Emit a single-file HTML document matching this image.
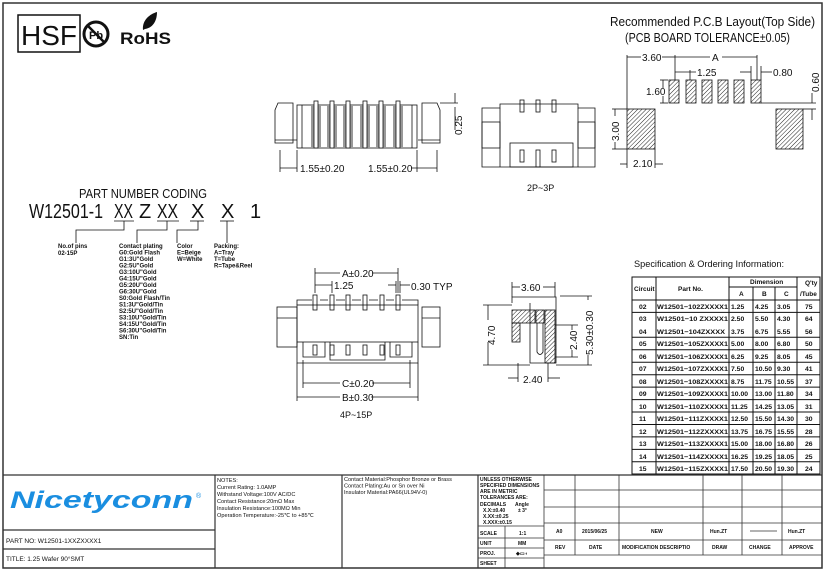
<!DOCTYPE html>
<html><head><meta charset="utf-8"><style>
html,body{margin:0;padding:0;background:#fff}
svg{display:block}
text{font-family:"Liberation Sans",sans-serif;fill:#111}
.s{font-size:6px}
.m{font-family:"Liberation Serif",serif;font-size:5.6px}
</style></head><body>
<svg width="826" height="571" viewBox="0 0 826 571" xmlns="http://www.w3.org/2000/svg">
<defs>
<pattern id="h" width="3" height="3" patternUnits="userSpaceOnUse" patternTransform="rotate(45)">
<line x1="0" y1="0" x2="0" y2="3" stroke="#222" stroke-width="1"/></pattern>
</defs>
<rect x="0" y="0" width="826" height="571" fill="#fff"/>
<rect x="3" y="3" width="819" height="565" fill="none" stroke="#333" stroke-width="1.5"/>

<!-- logos -->
<rect x="18" y="15" width="62" height="37" fill="none" stroke="#111" stroke-width="1.5"/>
<text x="21" y="45" font-size="28" textLength="56" lengthAdjust="spacingAndGlyphs">HSF</text>
<circle cx="96" cy="34" r="12" fill="none" stroke="#111" stroke-width="3"/>
<text x="89" y="39" font-size="11" font-weight="bold">Pb</text>
<line x1="88" y1="26" x2="104" y2="42" stroke="#111" stroke-width="2.5"/>
<text x="120" y="44" font-size="17" font-weight="bold" textLength="51" lengthAdjust="spacingAndGlyphs">RoHS</text>
<path d="M143 30 C142 20 150 14 157 12 C157 22 152 28 145 29 Z" fill="#111"/>

<!-- PCB layout title -->
<text x="610" y="26" font-size="12.5" textLength="205" lengthAdjust="spacingAndGlyphs">Recommended P.C.B Layout(Top Side)</text>
<text x="625" y="42" font-size="12.5" textLength="165" lengthAdjust="spacingAndGlyphs">(PCB BOARD TOLERANCE±0.05)</text>

<g stroke="#111" stroke-width="0.8">
<rect x="669" y="80" width="10" height="23" fill="url(#h)"/>
<rect x="686" y="80" width="10" height="23" fill="url(#h)"/>
<rect x="702" y="80" width="10" height="23" fill="url(#h)"/>
<rect x="718" y="80" width="10" height="23" fill="url(#h)"/>
<rect x="734" y="80" width="10" height="23" fill="url(#h)"/>
<rect x="751" y="80" width="10" height="23" fill="url(#h)"/>
<rect x="627" y="109" width="28" height="40" fill="url(#h)"/>
<rect x="776" y="109" width="27" height="40" fill="url(#h)"/>
<line x1="627" y1="55" x2="627" y2="109"/><line x1="675" y1="55" x2="675" y2="80"/><line x1="757" y1="55" x2="757" y2="80"/>
<line x1="627" y1="57" x2="641" y2="57"/><line x1="662" y1="57" x2="675" y2="57"/>
<line x1="675" y1="57" x2="710" y2="57"/><line x1="722" y1="57" x2="757" y2="57"/>
<line x1="690" y1="70" x2="690" y2="80"/>
<line x1="675" y1="72" x2="696" y2="72"/>
<line x1="740" y1="72" x2="751" y2="72"/><line x1="761" y1="72" x2="772" y2="72"/>
<line x1="751" y1="66" x2="751" y2="80"/><line x1="761" y1="66" x2="761" y2="80"/>
<line x1="660" y1="80" x2="668" y2="80"/><line x1="660" y1="103" x2="668" y2="103"/>
<line x1="663" y1="80" x2="663" y2="88"/><line x1="663" y1="96" x2="663" y2="103"/>
<line x1="761" y1="103" x2="816" y2="103"/><line x1="803" y1="109" x2="816" y2="109"/>
<line x1="812" y1="93" x2="812" y2="103"/><line x1="812" y1="109" x2="812" y2="120"/>
<line x1="612" y1="109" x2="627" y2="109"/><line x1="612" y1="149" x2="627" y2="149"/>
<line x1="615" y1="109" x2="615" y2="116"/><line x1="615" y1="142" x2="615" y2="149"/>
<line x1="627" y1="149" x2="627" y2="168"/><line x1="655" y1="149" x2="655" y2="168"/>
<line x1="620" y1="164" x2="627" y2="164"/><line x1="655" y1="164" x2="663" y2="164"/>
</g>
<g font-size="10">
<text x="642" y="61">3.60</text><text x="712" y="61">A</text>
<text x="697" y="76">1.25</text><text x="773" y="76">0.80</text>
<text x="646" y="95">1.60</text>
<text x="633" y="167">2.10</text>
<text transform="translate(819,92) rotate(-90)">0.60</text>
<text transform="translate(619,141) rotate(-90)">3.00</text>
</g>

<!-- top side view -->
<g stroke="#111" stroke-width="0.8" fill="none">
<rect x="297" y="105" width="120" height="43"/>
<path d="M293 103 L278 103 L275 110 L275 143 L293 143 Z"/>
<line x1="275" y1="140" x2="297" y2="140"/>
<path d="M422 103 L437 103 L440 110 L440 143 L422 143 Z"/>
<line x1="418" y1="140" x2="440" y2="140"/>
<line x1="302" y1="105" x2="302" y2="148"/><line x1="412" y1="105" x2="412" y2="148"/>
</g>
<g fill="#999">
<rect x="311" y="105" width="10" height="43"/><rect x="327" y="105" width="10" height="43"/><rect x="343" y="105" width="10" height="43"/>
<rect x="360" y="105" width="10" height="43"/><rect x="376" y="105" width="10" height="43"/><rect x="393" y="105" width="10" height="43"/>
</g>
<g stroke="#111" stroke-width="0.8" fill="#fff">
<rect x="314" y="101" width="4" height="47"/><rect x="330" y="101" width="4" height="47"/><rect x="346" y="101" width="4" height="47"/>
<rect x="363" y="101" width="4" height="47"/><rect x="379" y="101" width="4" height="47"/><rect x="396" y="101" width="4" height="47"/>
</g>
<g stroke="#111" stroke-width="0.8">
<line x1="280" y1="150" x2="280" y2="172"/><line x1="297" y1="150" x2="297" y2="172"/>
<line x1="417" y1="150" x2="417" y2="172"/><line x1="437" y1="150" x2="437" y2="172"/>
<line x1="280" y1="168" x2="297" y2="168"/><line x1="411" y1="168" x2="437" y2="168"/>
<line x1="440" y1="103" x2="458" y2="103"/><line x1="455" y1="93" x2="455" y2="103"/><line x1="455" y1="107" x2="455" y2="130"/>
</g>
<text x="300" y="172" font-size="10">1.55±0.20</text>
<text x="368" y="172" font-size="10">1.55±0.20</text>
<text transform="translate(462,135) rotate(-90)" font-size="10">0.25</text>

<!-- 2P~3P view -->
<g stroke="#111" stroke-width="0.8" fill="none">
<path d="M482 108 L500 108 L500 104 L578 104 L578 108 L595 108 L595 167 L482 167 Z"/>
<rect x="482" y="122" width="18" height="26"/><rect x="578" y="122" width="17" height="26"/>
<line x1="500" y1="108" x2="500" y2="167"/><line x1="578" y1="108" x2="578" y2="167"/>
<rect x="510" y="143" width="63" height="24"/>
<rect x="520" y="100" width="4" height="12"/><rect x="536" y="100" width="4" height="12"/><rect x="552" y="100" width="4" height="12"/>
<rect x="520" y="150" width="4" height="12"/><rect x="536" y="150" width="4" height="17"/><rect x="552" y="150" width="4" height="12"/>
</g>
<text x="527" y="191" font-size="9">2P~3P</text>

<!-- part number coding -->
<text x="79" y="198" font-size="13" textLength="128" lengthAdjust="spacingAndGlyphs">PART NUMBER CODING</text>
<text x="29" y="218" font-size="20" textLength="74" lengthAdjust="spacingAndGlyphs">W12501-1</text>
<text x="114" y="218" font-size="20" textLength="19" lengthAdjust="spacingAndGlyphs">XX</text>
<text x="139" y="218" font-size="20">Z</text>
<text x="157" y="218" font-size="20" textLength="21" lengthAdjust="spacingAndGlyphs">XX</text>
<text x="191" y="218" font-size="20">X</text>
<text x="221" y="218" font-size="20">X</text>
<text x="250" y="218" font-size="20">1</text>
<g stroke="#111" stroke-width="0.8" fill="none">
<line x1="114" y1="221" x2="134" y2="221"/><line x1="157" y1="221" x2="179" y2="221"/>
<line x1="190" y1="221" x2="204" y2="221"/><line x1="220" y1="221" x2="234" y2="221"/>
<polyline points="124,221 124,230 76,230 76,243"/>
<polyline points="167,221 167,230 137,230 137,243"/>
<polyline points="198,221 198,230 177,230 177,243"/>
<line x1="227" y1="221" x2="227" y2="243"/>
</g>
<g class="s" font-weight="bold">
<text x="58" y="248">No.of pins</text><text x="58" y="255">02-15P</text>
<text x="119" y="248">Contact plating</text>
<text x="119" y="254.5">G0:Gold Flash</text><text x="119" y="261">G1:3U"Gold</text><text x="119" y="267.5">G2:5U"Gold</text>
<text x="119" y="274">G3:10U"Gold</text><text x="119" y="280.5">G4:15U"Gold</text><text x="119" y="287">G5:20U"Gold</text>
<text x="119" y="293.5">G6:30U"Gold</text><text x="119" y="300">S0:Gold Flash/Tin</text><text x="119" y="306.5">S1:3U"Gold/Tin</text>
<text x="119" y="313">S2:5U"Gold/Tin</text><text x="119" y="319.5">S3:10U"Gold/Tin</text><text x="119" y="326">S4:15U"Gold/Tin</text>
<text x="119" y="332.5">S6:30U"Gold/Tin</text><text x="119" y="339">SN:Tin</text>
<text x="177" y="248">Color</text><text x="177" y="254.5">E=Beige</text><text x="177" y="261">W=White</text>
<text x="214" y="248">Packing:</text><text x="214" y="254.5">A=Tray</text><text x="214" y="261">T=Tube</text><text x="214" y="267.5">R=Tape&amp;Reel</text>
</g>

<!-- 4P~15P front view -->
<g stroke="#111" stroke-width="0.8" fill="none">
<path d="M297 305 L297 300 L312 300 M320 300 L328 300 M336 300 L345 300 M352 300 L361 300 M369 300 L378 300 M386 300 L394 300 M402 300 L418 300 L418 305"/>
<rect x="297" y="305" width="121" height="37"/>
<rect x="277" y="307" width="20" height="40"/><rect x="422" y="307" width="18" height="40"/>
<line x1="277" y1="318" x2="297" y2="318"/><line x1="422" y1="318" x2="440" y2="318"/>
<polyline points="297,342 297,363 418,363 418,342"/>
<polyline points="303,342 303,357 325,357 325,342"/>
<polyline points="330,342 330,360 385,360 385,342"/>
<polyline points="390,342 390,357 412,357 412,342"/>
<rect x="313" y="295" width="4" height="15"/><rect x="330" y="295" width="4" height="15"/><rect x="346" y="295" width="4" height="15"/>
<rect x="363" y="295" width="4" height="15"/><rect x="380" y="295" width="4" height="15"/><rect x="396" y="295" width="4" height="15"/>
<rect x="313" y="345" width="4" height="10"/><rect x="330" y="345" width="4" height="10"/><rect x="346" y="345" width="4" height="10"/>
<rect x="363" y="345" width="4" height="10"/><rect x="380" y="345" width="4" height="10"/><rect x="396" y="345" width="4" height="10"/>
<line x1="315" y1="268" x2="315" y2="293"/><line x1="398" y1="268" x2="398" y2="293"/>
<line x1="315" y1="273" x2="340" y2="273"/><line x1="372" y1="273" x2="398" y2="273"/>
<line x1="332" y1="281" x2="332" y2="293"/>
<line x1="315" y1="285" x2="332" y2="285"/>
<line x1="396" y1="281" x2="396" y2="293"/><line x1="400" y1="281" x2="400" y2="293"/>
<line x1="388" y1="285" x2="396" y2="285"/><line x1="400" y1="285" x2="410" y2="285"/>
<line x1="303" y1="360" x2="303" y2="388"/><line x1="410" y1="360" x2="410" y2="388"/>
<line x1="297" y1="363" x2="297" y2="401"/><line x1="418" y1="363" x2="418" y2="401"/>
<line x1="303" y1="383" x2="340" y2="383"/><line x1="372" y1="383" x2="410" y2="383"/>
<line x1="297" y1="397" x2="340" y2="397"/><line x1="371" y1="397" x2="418" y2="397"/>
</g>
<g font-size="10">
<text x="342" y="277">A±0.20</text><text x="334" y="289">1.25</text><text x="411" y="290">0.30  TYP</text>
<text x="342" y="387">C±0.20</text><text x="342" y="401">B±0.30</text>
</g>
<text x="340" y="418" font-size="9">4P~15P</text>

<!-- side section -->
<g stroke="#111" stroke-width="0.8" fill="none">
<path d="M512 303 L512 297 L556 297 L556 303 M530 303 L530 363 L556 363 L556 303"/>
<rect x="512" y="310" width="23" height="13" fill="url(#h)"/>
<rect x="512" y="323" width="8" height="19" fill="url(#h)"/>
<rect x="545" y="310" width="10" height="53" fill="url(#h)"/>
<rect x="536" y="310" width="8" height="13" fill="url(#h)"/>
<path d="M537 323 L537 352 Q540 357 543 352 L543 323"/>
<line x1="512" y1="282" x2="512" y2="297"/><line x1="555" y1="282" x2="555" y2="297"/>
<line x1="512" y1="287" x2="520" y2="287"/><line x1="543" y1="287" x2="555" y2="287"/>
<line x1="483" y1="305" x2="512" y2="305"/><line x1="483" y1="365" x2="530" y2="365"/>
<line x1="488" y1="305" x2="488" y2="320"/><line x1="488" y1="342" x2="488" y2="365"/>
<line x1="555" y1="325" x2="578" y2="325"/><line x1="555" y1="357" x2="578" y2="357"/>
<line x1="572" y1="325" x2="572" y2="330"/><line x1="572" y1="350" x2="572" y2="357"/>
<line x1="560" y1="296" x2="592" y2="296"/><line x1="556" y1="365" x2="592" y2="365"/>
<line x1="588" y1="296" x2="588" y2="300"/><line x1="588" y1="355" x2="588" y2="365"/>
<line x1="518" y1="363" x2="518" y2="382"/><line x1="548" y1="363" x2="548" y2="382"/>
<line x1="508" y1="378" x2="518" y2="378"/><line x1="548" y1="378" x2="560" y2="378"/>
</g>
<g font-size="10">
<text x="521" y="291">3.60</text>
<text transform="translate(495,345) rotate(-90)">4.70</text>
<text transform="translate(577,350) rotate(-90)">2.40</text>
<text transform="translate(593,355) rotate(-90)">5.30±0.30</text>
<text x="523" y="383">2.40</text>
</g>

<!-- spec table -->
<text x="634" y="267" font-size="9.5" textLength="150" lengthAdjust="spacingAndGlyphs">Specification &amp; Ordering Information:</text>
<g stroke="#111" stroke-width="1" fill="none">
<rect x="632" y="277" width="188" height="197"/>
<line x1="632" y1="300" x2="820" y2="300"/>
<line x1="729" y1="287" x2="797" y2="287"/>
<line x1="656" y1="277" x2="656" y2="474"/><line x1="729" y1="277" x2="729" y2="474"/>
<line x1="753" y1="287" x2="753" y2="474"/><line x1="775" y1="287" x2="775" y2="474"/><line x1="797" y1="277" x2="797" y2="474"/>
<path d="M632 312.4H820M632 337.3H820M632 349.8H820M632 362.2H820M632 374.7H820M632 387.1H820M632 399.6H820M632 412H820M632 424.5H820M632 436.9H820M632 449.4H820M632 461.8H820"/>
</g>
<g font-size="6.5" font-weight="bold">
<text x="634" y="291">Circuit</text><text x="678" y="291">Part No.</text>
<text x="750" y="284">Dimension</text><text x="739" y="296">A</text><text x="762" y="296">B</text><text x="784" y="296">C</text>
<text x="805" y="285">Q'ty</text><text x="800" y="296">/Tube</text>
</g>
<g font-size="6.8" font-weight="bold">
<text x="639" y="309">02</text><text x="657" y="309" textLength="71" lengthAdjust="spacingAndGlyphs">W12501−102ZXXXX1</text><text x="731" y="309">1.25</text><text x="755" y="309">4.25</text><text x="777" y="309">3.05</text><text x="805" y="309">75</text>
<text x="639" y="321">03</text><text x="657" y="321" textLength="71" lengthAdjust="spacingAndGlyphs">W12501−10  ZXXXX1</text><text x="731" y="321">2.50</text><text x="755" y="321">5.50</text><text x="777" y="321">4.30</text><text x="805" y="321">64</text>
<text x="639" y="334">04</text><text x="657" y="334" textLength="68" lengthAdjust="spacingAndGlyphs">W12501−104ZXXXX</text><text x="731" y="334">3.75</text><text x="755" y="334">6.75</text><text x="777" y="334">5.55</text><text x="805" y="334">56</text>
<text x="639" y="346">05</text><text x="657" y="346" textLength="71" lengthAdjust="spacingAndGlyphs">W12501−105ZXXXX1</text><text x="731" y="346">5.00</text><text x="755" y="346">8.00</text><text x="777" y="346">6.80</text><text x="805" y="346">50</text>
<text x="639" y="359">06</text><text x="657" y="359" textLength="71" lengthAdjust="spacingAndGlyphs">W12501−106ZXXXX1</text><text x="731" y="359">6.25</text><text x="755" y="359">9.25</text><text x="777" y="359">8.05</text><text x="805" y="359">45</text>
<text x="639" y="371">07</text><text x="657" y="371" textLength="71" lengthAdjust="spacingAndGlyphs">W12501−107ZXXXX1</text><text x="731" y="371">7.50</text><text x="755" y="371">10.50</text><text x="777" y="371">9.30</text><text x="805" y="371">41</text>
<text x="639" y="384">08</text><text x="657" y="384" textLength="71" lengthAdjust="spacingAndGlyphs">W12501−108ZXXXX1</text><text x="731" y="384">8.75</text><text x="755" y="384">11.75</text><text x="777" y="384">10.55</text><text x="805" y="384">37</text>
<text x="639" y="396">09</text><text x="657" y="396" textLength="71" lengthAdjust="spacingAndGlyphs">W12501−109ZXXXX1</text><text x="731" y="396">10.00</text><text x="755" y="396">13.00</text><text x="777" y="396">11.80</text><text x="805" y="396">34</text>
<text x="639" y="409">10</text><text x="657" y="409" textLength="71" lengthAdjust="spacingAndGlyphs">W12501−110ZXXXX1</text><text x="731" y="409">11.25</text><text x="755" y="409">14.25</text><text x="777" y="409">13.05</text><text x="805" y="409">31</text>
<text x="639" y="421">11</text><text x="657" y="421" textLength="71" lengthAdjust="spacingAndGlyphs">W12501−111ZXXXX1</text><text x="731" y="421">12.50</text><text x="755" y="421">15.50</text><text x="777" y="421">14.30</text><text x="805" y="421">30</text>
<text x="639" y="434">12</text><text x="657" y="434" textLength="71" lengthAdjust="spacingAndGlyphs">W12501−112ZXXXX1</text><text x="731" y="434">13.75</text><text x="755" y="434">16.75</text><text x="777" y="434">15.55</text><text x="805" y="434">28</text>
<text x="639" y="446">13</text><text x="657" y="446" textLength="71" lengthAdjust="spacingAndGlyphs">W12501−113ZXXXX1</text><text x="731" y="446">15.00</text><text x="755" y="446">18.00</text><text x="777" y="446">16.80</text><text x="805" y="446">26</text>
<text x="639" y="459">14</text><text x="657" y="459" textLength="71" lengthAdjust="spacingAndGlyphs">W12501−114ZXXXX1</text><text x="731" y="459">16.25</text><text x="755" y="459">19.25</text><text x="777" y="459">18.05</text><text x="805" y="459">25</text>
<text x="639" y="471">15</text><text x="657" y="471" textLength="71" lengthAdjust="spacingAndGlyphs">W12501−115ZXXXX1</text><text x="731" y="471">17.50</text><text x="755" y="471">20.50</text><text x="777" y="471">19.30</text><text x="805" y="471">24</text>
</g>

<!-- title block -->
<g stroke="#333" stroke-width="1.2" fill="none">
<line x1="3" y1="475" x2="822" y2="475"/>
<line x1="215" y1="475" x2="215" y2="568"/><line x1="342" y1="475" x2="342" y2="568"/><line x1="478" y1="475" x2="478" y2="568"/>
<line x1="3" y1="530" x2="215" y2="530"/><line x1="3" y1="549" x2="215" y2="549"/>
</g>
<g stroke="#333" stroke-width="0.8" fill="none">
<line x1="505" y1="526" x2="505" y2="568"/><line x1="544" y1="475" x2="544" y2="568"/>
<line x1="478" y1="526" x2="544" y2="526"/><line x1="478" y1="538" x2="544" y2="538"/><line x1="478" y1="548" x2="544" y2="548"/><line x1="478" y1="558" x2="544" y2="558"/>
<line x1="544" y1="490" x2="822" y2="490"/><line x1="544" y1="507" x2="822" y2="507"/><line x1="544" y1="523" x2="822" y2="523"/>
<line x1="544" y1="540" x2="822" y2="540"/><line x1="544" y1="555" x2="822" y2="555"/>
<path d="M575 475V555M619 475V555M703 475V555M742 475V555M782 475V555"/>
<line x1="750" y1="531" x2="777" y2="531"/>
</g>
<text x="10" y="508" font-size="24" font-weight="bold" font-style="italic" style="fill:#1a8ee0" textLength="183" lengthAdjust="spacingAndGlyphs">Nicetyconn</text>
<text x="196" y="498" font-size="7" style="fill:#1a8ee0">®</text>
<text x="6" y="543" font-size="6.5">PART NO: W12501-1XXZXXXX1</text>
<text x="6" y="561" font-size="6.5">TITLE: 1.25 Wafer 90°SMT</text>
<g class="m">
<text x="217" y="482">NOTES:</text><text x="217" y="489">Current Rating: 1.0AMP</text>
<text x="217" y="496">Withstand Voltage:100V AC/DC</text><text x="217" y="503">Contact Resistance:20mΩ  Max</text>
<text x="217" y="510">Insulation Resistance:100MΩ  Min</text><text x="217" y="517">Operation Temperature:-25℃  to  +85℃</text>
<text x="344" y="481">Contact Material:Phosphor Bronze or Brass</text>
<text x="344" y="487.5">Contact Plating:Au or Sn over Ni</text>
<text x="344" y="494">Insulator Material:PA66(UL94V-0)</text>
</g>
<g font-size="5" font-weight="bold">
<text x="480" y="481">UNLESS OTHERWISE</text><text x="480" y="487">SPECIFIED DIMENSIONS</text>
<text x="480" y="493">ARE IN METRIC</text><text x="480" y="499">TOLERANCES  ARE:</text>
<text x="480" y="506">DECIMALS</text><text x="515" y="506">Angle</text>
<text x="483" y="512">X.X:±0.40</text><text x="518" y="512">± 3°</text>
<text x="483" y="518">X.XX:±0.25</text><text x="483" y="524">X.XXX:±0.15</text>
<text x="480" y="535">SCALE</text><text x="519" y="535">1:1</text>
<text x="480" y="545">UNIT</text><text x="518" y="545">MM</text>
<text x="480" y="555">PROJ.</text><text x="516" y="555">◆▭◖</text>
<text x="480" y="565">SHEET</text>
<text x="556" y="533">A0</text><text x="582" y="533">2015/06/25</text><text x="651" y="533">NEW</text>
<text x="710" y="533">Hun.ZT</text><text x="788" y="533">Hun.ZT</text>
<text x="555" y="549">REV</text><text x="589" y="549">DATE</text><text x="622" y="549">MODIFICATION DESCRIPTIO</text>
<text x="712" y="549">DRAW</text><text x="749" y="549">CHANGE</text><text x="789" y="549">APPROVE</text>
</g>
</svg>
</body></html>
